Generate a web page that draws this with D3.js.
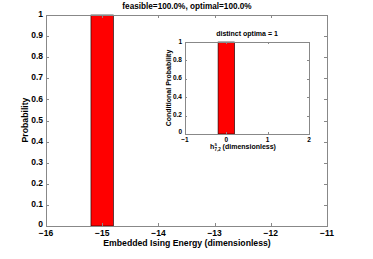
<!DOCTYPE html>
<html>
<head>
<meta charset="utf-8">
<script src="https://cdn.jsdelivr.net/npm/d3@7"></script>
<style>
  body { margin: 0; background: #fff; }
  text { font-family: "Liberation Sans", Arial, sans-serif; font-weight: bold; fill: #000; }
</style>
</head>
<body>
<svg id="chart" width="373" height="259"></svg>
<script>
// main histogram
const energyBins = [-15];
const energyProb = [1];
const binWidth = 0.4;
const mainXTicks = [-16, -15, -14, -13, -12, -11];
const mainYTicks = [0, 0.1, 0.2, 0.3, 0.4, 0.5, 0.6, 0.7, 0.8, 0.9, 1];

// inset histogram
const fieldBins = [0];
const fieldProb = [1];
const insetXTicks = [-1, 0, 1, 2];
const insetYTicks = [0, 0.2, 0.4, 0.6, 0.8, 1];

const svg = d3.select("#chart");
const axisColor = "#888";

function drawPanel(g, opts) {
  const { x, y, xTicks, yTicks, bins, probs, fontSize, tickLen } = opts;
  const [x0, x1] = x.range();
  const [y0, y1] = y.range();

  g.append("rect")
    .attr("x", x0).attr("y", y1)
    .attr("width", x1 - x0).attr("height", y0 - y1)
    .attr("fill", "#fff");

  g.selectAll(".bar")
    .data(bins)
    .enter()
    .append("rect")
    .attr("class", "bar")
    .attr("x", d => x(d - binWidth / 2))
    .attr("y", (d, i) => y(probs[i]))
    .attr("width", d => x(d + binWidth / 2) - x(d - binWidth / 2))
    .attr("height", (d, i) => y(0) - y(probs[i]))
    .attr("fill", "#ff0000")
    .attr("stroke", "#000")
    .attr("stroke-width", 0.6);

  const ticks = g.append("g").attr("stroke", axisColor).attr("stroke-width", 1);
  xTicks.forEach(t => {
    const px = Math.round(x(t)) + 0.5;
    ticks.append("line").attr("x1", px).attr("x2", px).attr("y1", y0).attr("y2", y0 - tickLen);
    ticks.append("line").attr("x1", px).attr("x2", px).attr("y1", y1).attr("y2", y1 + tickLen);
  });
  yTicks.forEach(t => {
    const py = Math.round(y(t)) + 0.5;
    ticks.append("line").attr("x1", x0).attr("x2", x0 + tickLen).attr("y1", py).attr("y2", py);
    ticks.append("line").attr("x1", x1).attr("x2", x1 - tickLen).attr("y1", py).attr("y2", py);
  });

  g.append("rect")
    .attr("x", Math.round(x0) + 0.5).attr("y", Math.round(y1) + 0.5)
    .attr("width", Math.round(x1 - x0)).attr("height", Math.round(y0 - y1))
    .attr("fill", "none")
    .attr("stroke", axisColor);

  g.selectAll(".xt")
    .data(xTicks)
    .enter()
    .append("text")
    .attr("x", d => x(d))
    .attr("y", y0 + fontSize + 1.5)
    .attr("text-anchor", "middle")
    .style("font-size", fontSize + "px")
    .text(d => d < 0 ? "\u2212" + Math.abs(d) : d);

  // the zero label sits a little higher so it clears the x tick labels
  g.selectAll(".yt")
    .data(yTicks)
    .enter()
    .append("text")
    .attr("x", x0 - 3)
    .attr("y", d => y(d) + fontSize * 0.25 - (d === 0 ? 1.5 : 0))
    .attr("text-anchor", "end")
    .style("font-size", fontSize + "px")
    .text(d => d);
}

// main axes
const xMain = d3.scaleLinear().domain([-16, -11]).range([46, 327]);
const yMain = d3.scaleLinear().domain([0, 1]).range([226, 15]);
const main = svg.append("g");
drawPanel(main, {
  x: xMain, y: yMain, xTicks: mainXTicks, yTicks: mainYTicks,
  bins: energyBins, probs: energyProb, fontSize: 8.5, tickLen: 3
});

main.append("text")
  .attr("x", 187).attr("y", 9)
  .attr("text-anchor", "middle")
  .style("font-size", "8.2px")
  .text("feasible=100.0%, optimal=100.0%");

main.append("text")
  .attr("x", 187).attr("y", 245.5)
  .attr("text-anchor", "middle")
  .style("font-size", "8.7px")
  .text("Embedded Ising Energy (dimensionless)");

main.append("text")
  .attr("transform", "translate(28,120) rotate(-90)")
  .attr("text-anchor", "middle")
  .style("font-size", "8.7px")
  .text("Probability");

// inset axes
const xIn = d3.scaleLinear().domain([-1, 2]).range([185, 309]);
const yIn = d3.scaleLinear().domain([0, 1]).range([134, 42]);
const inset = svg.append("g");
drawPanel(inset, {
  x: xIn, y: yIn, xTicks: insetXTicks, yTicks: insetYTicks,
  bins: fieldBins, probs: fieldProb, fontSize: 6.5, tickLen: 2
});

inset.append("text")
  .attr("x", 247).attr("y", 36)
  .attr("text-anchor", "middle")
  .style("font-size", "7px")
  .text("distinct optima = 1");

inset.append("text")
  .attr("transform", "translate(171,88) rotate(-90)")
  .attr("text-anchor", "middle")
  .style("font-size", "7px")
  .text("Conditional Probability");

const xl = inset.append("text")
  .attr("x", 243).attr("y", 149)
  .attr("text-anchor", "middle")
  .style("font-size", "7px");
xl.append("tspan").text("h");
xl.append("tspan").attr("dy", -3).style("font-size", "4.5px").text("s");
xl.append("tspan").attr("dx", -2.5).attr("dy", 5).style("font-size", "4.5px").text("7,2");
xl.append("tspan").attr("dy", -2).text(" (dimensionless)");
</script>
</body>
</html>
